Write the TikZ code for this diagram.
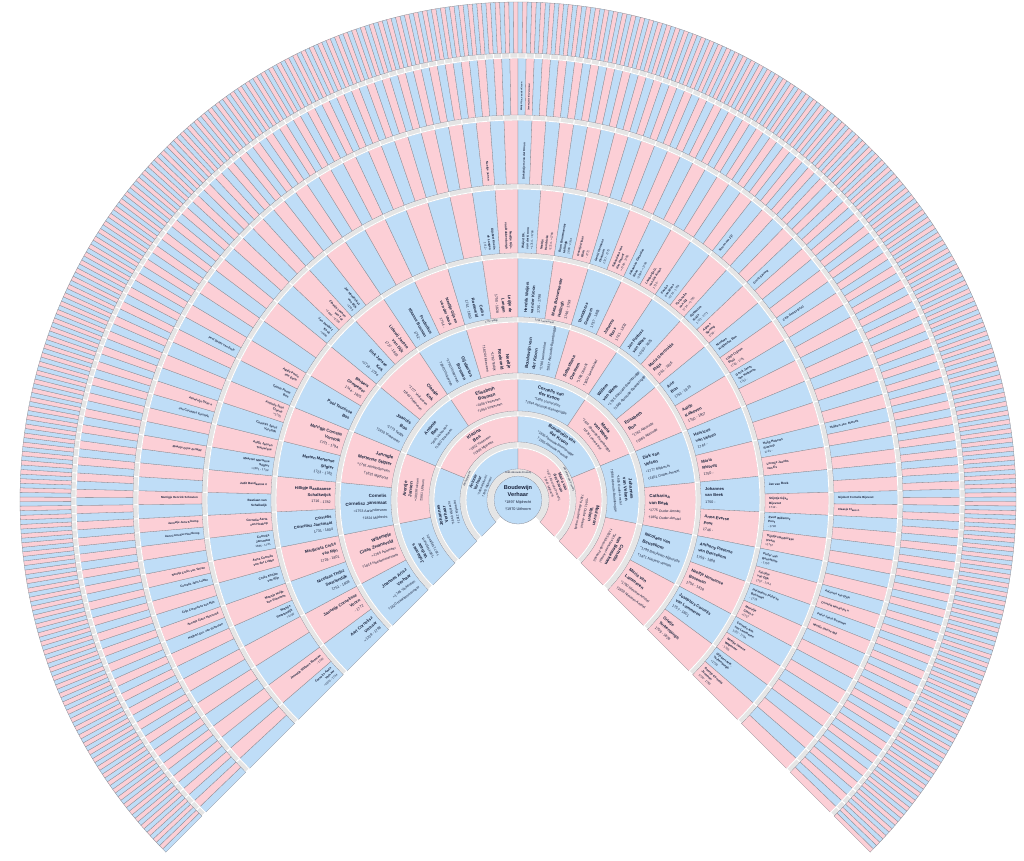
\documentclass[tikz,border=0pt]{standalone}
\usepackage{fontspec}
\setmainfont{Liberation Sans}
\definecolor{mblue}{RGB}{191,221,247}
\definecolor{fpink}{RGB}{252,207,214}
\definecolor{ringgray}{RGB}{229,229,229}
\definecolor{segline}{RGB}{140,140,148}
\definecolor{txt}{RGB}{25,35,60}
% ring of n segments, alternating father (blue) / mother (pink)
\newcommand\fanring[3]{%
  \pgfmathsetmacro\stp{270/#3}%
  \foreach \i in {1,...,#3}{%
    \pgfmathsetmacro\sa{225-(\i-1)*\stp}%
    \pgfmathsetmacro\ea{225-\i*\stp}%
    \ifodd\i\def\fc{mblue}\else\def\fc{fpink}\fi
    \filldraw[fill=\fc, draw=segline, line width=0.3pt]
      (\sa:#1pt) arc[start angle=\sa, end angle=\ea, radius=#1pt]
      -- (\ea:#2pt) arc[start angle=\ea, end angle=\sa, radius=#2pt] -- cycle;
  }}
% grey marriage ring, split in n blocks
\newcommand\grayring[3]{%
  \pgfmathsetmacro\stp{270/#3}%
  \foreach \i in {1,...,#3}{%
    \pgfmathsetmacro\sa{225-(\i-1)*\stp}%
    \pgfmathsetmacro\ea{225-\i*\stp}%
    \filldraw[fill=ringgray, draw=white, line width=0.9pt]
      (\sa:#1pt) arc[start angle=\sa, end angle=\ea, radius=#1pt]
      -- (\ea:#2pt) arc[start angle=\ea, end angle=\sa, radius=#2pt] -- cycle;
  }}
% tangential label
\newcommand\Tlab[5]{%
  \pgfmathsetmacro\rot{#2-90}%
  \node[rotate=\rot, align=center, font=#4, inner sep=0pt, text=txt] (#1) at (#2:#3pt) {#5};}
% radial label, aligned at inner edge
\newcommand\Rlab[5]{%
  \ifdim#2pt>90pt
    \pgfmathsetmacro\rot{#2-180}%
    \node[rotate=\rot, anchor=east, align=right, font=#4, inner sep=0pt, text=txt] (#1) at (#2:#3pt) {#5};%
  \else
    \node[rotate=#2, anchor=west, align=left, font=#4, inner sep=0pt, text=txt] (#1) at (#2:#3pt) {#5};%
  \fi}
\newcommand\fA{\fontsize{5.6}{6.8}\selectfont}
\newcommand\fI{\fontsize{4}{4.9}\selectfont}
\newcommand\fB{\fontsize{4.5}{5.6}\selectfont}
\newcommand\fD{\fontsize{4.4}{7.2}\selectfont}
\newcommand\fE{\fontsize{4.1}{6.4}\selectfont}
\newcommand\fF{\fontsize{3.1}{4.4}\selectfont}
\newcommand\fG{\fontsize{2.9}{3.6}\selectfont}
\newcommand\fH{\fontsize{2.3}{2.9}\selectfont}
\newcommand\dA[1]{{\fontsize{3.8}{4.8}\selectfont #1}}
\newcommand\dI[1]{{\fontsize{3}{3.9}\selectfont #1}}
\newcommand\dB[1]{{\fontsize{3.3}{4.3}\selectfont #1}}
\newcommand\dD[1]{{\fontsize{3.5}{5.4}\selectfont #1}}
\newcommand\dE[1]{{\fontsize{3.6}{5.4}\selectfont #1}}
\newcommand\dF[1]{{\fontsize{2.9}{4.2}\selectfont #1}}
\newcommand\mr{\fontsize{2.5}{3.1}\selectfont}
\newcommand\GI[3]{\pgfmathsetmacro\ang{225-(#2-0.5)*135}\Tlab{#1}{\ang}{41}{\fI}{#3}}
\newcommand\GII[3]{\pgfmathsetmacro\ang{225-(#2-0.5)*67.5}\Tlab{#1}{\ang}{71}{\fB}{#3}}
\newcommand\GIII[3]{\pgfmathsetmacro\ang{225-(#2-0.5)*33.75}\Tlab{#1}{\ang}{105}{\fB}{#3}}
\newcommand\GIV[3]{\pgfmathsetmacro\ang{225-(#2-0.5)*16.875}\Rlab{#1}{\ang}{131}{\fD}{#3}}
\newcommand\GV[3]{\pgfmathsetmacro\ang{225-(#2-0.5)*8.4375}\Rlab{#1}{\ang}{187}{\fE}{#3}}
\newcommand\GVI[3]{\pgfmathsetmacro\ang{225-(#2-0.5)*4.21875}\Rlab{#1}{\ang}{251}{\fF}{#3}}
\newcommand\GVII[3]{\pgfmathsetmacro\ang{225-(#2-0.5)*2.109375}\Rlab{#1}{\ang}{320}{\fG}{#3}}
\newcommand\GVIII[3]{\pgfmathsetmacro\ang{225-(#2-0.5)*1.0546875}\Rlab{#1}{\ang}{389}{\fH}{#3}}
% marriage label in grey ring
\newcommand\MR[5]{\pgfmathsetmacro\ang{225-(#3-0.5)*#2}\Tlab{#1}{\ang}{#4}{\mr}{#5}}
\begin{document}
\begin{tikzpicture}[x=1pt,y=1pt]
\useasboundingbox (-518,-360) rectangle (506,500);
\fill[white] (-518,-360) rectangle (506,500);
% rings
\grayring{24}{31}{1}
\fanring{31}{52}{2}
\grayring{52}{58}{2}
\fanring{58}{84}{4}
\grayring{84}{89}{4}
\fanring{89}{121}{8}
\grayring{121}{127}{8}
\fanring{127}{178}{16}
\grayring{178}{183}{16}
\fanring{183}{242}{32}
\grayring{242}{247}{32}
\fanring{247}{311}{64}
\grayring{311}{316}{64}
\fanring{316}{380}{128}
\grayring{380}{385}{128}
\fanring{385}{442}{256}
\grayring{442}{447}{256}
\fanring{447}{498}{512}
% root
\filldraw[fill=mblue, draw=segline, line width=0.3pt] (0,0) circle[radius=24pt];
\node[align=center, font=\fA, inner sep=0pt, text=txt] (root) at (0,2) {\textbf{Boudewijn}\\\textbf{Verhaar}\\[1pt]\dA{*1897 Mijdrecht}\\\dA{\textdagger1970 Uithoorn}};
\MR{m0}{270}{1}{27.5}{1896 Abcoude-Proosdij}
\MR{m1a}{135}{1}{55}{1866 Mijdrecht}
\MR{m1b}{135}{2}{55}{1862 Abcoude-Proosdij}
\MR{m4h}{16.875}{8}{180.5}{1772 Tedijk}
\MR{m4i}{16.875}{9}{180.5}{1759 Loenersloot}
% generation 1
\GI{g1a}{1}{\textbf{Antonie}\\\textbf{Verhaar}\\\dI{*1869 Mijdrecht}\\\dI{\textdagger1951 Mijdrecht}}
\GI{g1b}{2}{\textbf{Maria van}\\\textbf{der Kroon}\\\dI{*1871 Abcoude-Proosdij}\\\dI{\textdagger1941 Mijdrecht}}
% generation 2
\GII{g2a}{1}{\textbf{Johannes}\\\textbf{Verhaar}\\\dB{*1840 Mijdrecht}\\\dB{\textdagger1912 Mijdrecht}}
\GII{g2b}{2}{\textbf{Klazina}\\\textbf{Bos}\\\dB{*1832 Vinkeveen}\\\dB{\textdagger1909 Mijdrecht}}
\GII{g2c}{3}{\textbf{Boudewijn van}\\\textbf{der Kroon}\\\dB{*1836 Abcoude-Baambrugge}\\\dB{\textdagger1905 Abcoude-Proosdij}}
\GII{g2d}{4}{\textbf{Maria van}\\\textbf{Velsen}\\\dB{≈1841 Ouder-Amstel}\\\dB{\textdagger1879 Abcoude-Proosdij}}
% generation 3
\GIII{g3a}{1}{\textbf{Johannes}\\\textbf{Verhaar}\\\dB{*1804 Mijdrecht}\\\dB{\textdagger1871 Mijdrecht}}
\GIII{g3b}{2}{\textbf{Arentje}\\\textbf{Jansen}\\\dB{≈1803 Ruiveen}\\\dB{\textdagger1881 Uithoorn}}
\GIII{g3c}{3}{\textbf{Antonie}\\\textbf{Bos}\\\dB{*1801 Vinkeveen}\\\dB{\textdagger1880 Vinkeveen}}
\GIII{g3d}{4}{\textbf{Elisabeth}\\\textbf{Bosman}\\\dB{*1808 Vinkeveen}\\\dB{\textdagger1894 Vinkeveen}}
\GIII{g3e}{5}{\textbf{Cornelis van}\\\textbf{der Kroon}\\\dB{*1806 Loenersloot}\\\dB{\textdagger1844 Abcoude-Baambrugge}}
\GIII{g3f}{6}{\textbf{Maria}\\\textbf{van Wees}\\\dB{*1814 Abcoude-Baambrugge}\\\dB{\textdagger1878 Loenersloot}}
\GIII{g3g}{7}{\textbf{Johannes}\\\textbf{van Velsen}\\\dB{*1805 Ouder-Amstel}\\\dB{\textdagger1868 Abcoude-Baambrugge}}
\GIII{g3h}{8}{\textbf{Cornelia}\\\textbf{van Beusekom}\\\dB{*1814 Nieuwer-Amstel}\\\dB{\textdagger1893 Abcoude-Proosdij}}
% generation 4
\GIV{g4a}{1}{\textbf{Joannes Arisz}\\\textbf{Verhaar}\\\dD{≈1745 Vinkeveen}\\\dD{\textdagger1820 Haarlemmermeer}}
\GIV{g4b}{2}{\textbf{Willempje}\\\textbf{Claas Zwaneveld}\\\dD{≈1765 Aalsmeer}\\\dD{\textdagger1814 Haarlemmermeer}}
\GIV{g4c}{3}{\textbf{Cornelis}\\\textbf{Cornelisz Jansmaat}\\\dD{≈1753 Aarlanderveen}\\\dD{\textdagger1824 Mijdrecht}}
\GIV{g4d}{4}{\textbf{Jannigje}\\\textbf{Mertense Stigter}\\\dD{≈1761 Aarlanderveen}\\\dD{\textdagger1831 Mijdrecht}}
\GIV{g4e}{5}{\textbf{Joannis}\\\textbf{Bos}\\\dD{*1773 Tedijk}\\\dD{\textdagger1810 Vinkeveen}}
\GIV{g4f}{6}{\textbf{Claasje}\\\textbf{Kok}\\\dD{*1777 Vinkeveen}\\\dD{\textdagger1843 Vinkeveen}}
\GIV{g4g}{7}{\textbf{Gijsbertus}\\\textbf{Bosman}\\\dD{*1780 Vinkeveen}\\\dD{\textdagger1845 Vinkeveen}}
\GIV{g4h}{8}{\textbf{Neeltje}\\\textbf{Roeleveld}\\\dD{*1782 Tedijk}\\\dD{\textdagger1824 Vinkeveen}}
\GIV{g4i}{9}{\textbf{Boudewijn van}\\\textbf{der Kroon}\\\dD{*1780 Loenersloot}\\\dD{\textdagger1837 Abcoude-Baambrugge}}
\GIV{g4j}{10}{\textbf{Sebastiana}\\\textbf{Overeem}\\\dD{*1786 Utrecht}\\\dD{\textdagger1850 Loenersloot}}
\GIV{g4k}{11}{\textbf{Willem}\\\textbf{van Wees}\\\dD{*1785 Abcoude-Baambrugge}\\\dD{\textdagger1849 Abcoude-Baambrugge}}
\GIV{g4l}{12}{\textbf{Elisabeth}\\\textbf{Bon}\\\dD{*1782 Abcoude}\\\dD{\textdagger1865 Abcoude}}
\GIV{g4m}{13}{\textbf{Dirk van}\\\textbf{Velsen}\\\dD{*1777 Mijdrecht}\\\dD{\textdagger1851 Ouder-Amstel}}
\GIV{g4n}{14}{\textbf{Catharina}\\\textbf{van Beek}\\\dD{*1775 Ouder-Amstel}\\\dD{\textdagger1856 Ouder-Amstel}}
\GIV{g4o}{15}{\textbf{Nicolaas van}\\\textbf{Beusekom}\\\dD{*1790 Breukelen-Nijenrode}\\\dD{\textdagger1871 Nieuwer-Amstel}}
\GIV{g4p}{16}{\textbf{Maria van}\\\textbf{Lammeren}\\\dD{*1790 Nieuwer-Amstel}\\\dD{\textdagger1859 Nieuwer-Amstel}}
% generation 5
\GV{g5a}{1}{\textbf{Aart Cornelisz}\\\textbf{Verhaar}\\\dE{≈1709 - 1798}}
\GV{g5b}{2}{\textbf{Jannetje Cornelisse}\\\textbf{Voorn}\\\dE{- 1772}}
\GV{g5c}{3}{\textbf{Nicolaas Thijsz}\\\textbf{Swartendijk}\\\dE{1751 - 1808}}
\GV{g5d}{4}{\textbf{Margareta Crelis}\\\textbf{van Rijn}\\\dE{1729 - 1801}}
\GV{g5e}{5}{\textbf{Cornelis}\\\textbf{Cornelisz Jansmaat}\\\dE{1731 - 1804}}
\GV{g5f}{6}{\textbf{Hilligje Bastiaanse}\\\textbf{Schalkwijck}\\\dE{1716 - 1782}}
\GV{g5g}{7}{\textbf{Merten Mertense}\\\textbf{Stigter}\\\dE{1723 - 1782}}
\GV{g5h}{8}{\textbf{Marrigje Cornelis}\\\textbf{Verstolk}\\\dE{1731 - 1794}}
\GV{g5i}{9}{\textbf{Pool Teunisse}\\\textbf{Bos}}
\GV{g5j}{10}{\textbf{Barbera}\\\textbf{Compeleer}\\\dE{1744 - 1825}}
\GV{g5k}{11}{\textbf{Dirk Jansse}\\\textbf{Kok}\\\dE{≈1718 - 1794}}
\GV{g5l}{12}{\textbf{Lidewij Jansse}\\\textbf{van Dijk}\\\dE{1727 - 1803}}
\GV{g5m}{13}{\textbf{Frederikus}\\\textbf{Klaasse Bosman}\\\dE{1752 -}}
\GV{g5n}{14}{\textbf{Neeltje Gijsen}\\\textbf{van der Vaart}\\\dE{1754 -}}
\GV{g5o}{15}{\textbf{Crelis}\\\textbf{Roeleveld}\\\dE{1741 - 1802}}
\GV{g5p}{16}{\textbf{Leijtje de}\\\textbf{Langen}\\\dE{1750 - 1828}}
\GV{g5q}{17}{\textbf{Hendrik Weijers}\\\textbf{van der Kroon}\\\dE{1735 - 1798}}
\GV{g5r}{18}{\textbf{Maria Bouwmeester}\\\textbf{Hellingh}\\\dE{1746 - 1799}}
\GV{g5s}{19}{\textbf{Theodorus}\\\textbf{Overeem}\\\dE{1757 - 1805}}
\GV{g5t}{20}{\textbf{Johanna}\\\textbf{Roos}\\\dE{1761 - 1833}}
\GV{g5u}{21}{\textbf{Jan Paulusz}\\\textbf{van Wees}\\\dE{≈1760 - 1825}}
\GV{g5v}{22}{\textbf{Maria Geertruida}\\\textbf{Ruijs}\\\dE{1761 - 1816}}
\GV{g5w}{23}{\textbf{Arie}\\\textbf{Bon}\\\dE{1753 - 1819}}
\GV{g5x}{24}{\textbf{Aaltje}\\\textbf{Kalkoven}\\\dE{1750 - 1807}}
\GV{g5y}{25}{\textbf{Henricus}\\\textbf{van Velsen}\\\dE{1744 -}}
\GV{g5z}{26}{\textbf{Maria}\\\textbf{Rietvelt}\\\dE{1750 -}}
\GV{g5A}{27}{\textbf{Johannes}\\\textbf{van Beek}\\\dE{1750 -}}
\GV{g5B}{28}{\textbf{Anna Everse}\\\textbf{Post}\\\dE{1746 -}}
\GV{g5C}{29}{\textbf{Anthony Pieterse}\\\textbf{van Beusekom}\\\dE{1759 - 1808}}
\GV{g5D}{30}{\textbf{Neeltje Hermense}\\\textbf{Boseman}\\\dE{1754 - 1818}}
\GV{g5E}{31}{\textbf{Josephus Cornelis}\\\textbf{van Lammeren}\\\dE{1757 - 1801}}
\GV{g5F}{32}{\textbf{Grietje}\\\textbf{Turkenburgh}\\\dE{1759 - 1828}}
% generation 6
\GVI{g6a}{1}{\textbf{Cornelis Aarts}\\\textbf{Verhaar}\\\dF{≈1670 - 1744}}
\GVI{g6b}{2}{\textbf{Jannetje Willems Bosman}\\\dF{- 1746}}
\GVI{g6e}{5}{\textbf{Mathijs}\\\textbf{Swartendijk}\\\dF{≈1700}}
\GVI{g6f}{6}{\textbf{Maartje Huijb.}\\\textbf{van Schooten}}
\GVI{g6g}{7}{\textbf{Crelis Kreijve}\\\textbf{van Rijn}}
\GVI{g6h}{8}{\textbf{Anna Cornelis}\\\textbf{van der Lubbe}}
\GVI{g6i}{9}{\textbf{Cornelis}\\\textbf{Jansmaat}\\\dF{1685 - 1731}}
\GVI{g6j}{10}{\textbf{Cornelia Aerts}\\\textbf{van Hoekop}}
\GVI{g6k}{11}{\textbf{Bastiaan van}\\\textbf{Schalkwijk}}
\GVI{g6l}{12}{\textbf{Judit Bastiaanse n}}
\GVI{g6m}{13}{\textbf{Maarten Mertense}\\\textbf{Stigter}\\\dF{≈1681 - 1734}}
\GVI{g6n}{14}{\textbf{Aaltje Jansen}\\\textbf{Teeuwisse}}
\GVI{g6o}{15}{\textbf{Cornelis Jansz}\\\textbf{Verstolk}}
\GVI{g6p}{16}{\textbf{Antonia Jans}\\\textbf{Claens}\\\dF{≈1705}}
\GVI{g6q}{17}{\textbf{Teunis Poots}\\\textbf{Bos}}
\GVI{g6r}{18}{\textbf{Agata Poots}\\\textbf{van Esch}}
\GVI{g6u}{21}{\textbf{Jan Jacobsz}\\\textbf{Kock}\\\dF{≈1690}}
\GVI{g6v}{22}{\textbf{Claasje Loenen}\\\textbf{van Tol}\\\dF{≈1690 - ≈1730}}
\GVI{g6w}{23}{\textbf{Jan Hendricksz}\\\textbf{van Dijk}\\\dF{≈1705}}
\GVI{g6ae}{31}{\textbf{Gijsbert Koelis}\\\textbf{de Langen}\\\dF{1712 -}}
\GVI{g6af}{32}{\textbf{Neeltje Gijs.}\\\textbf{van Dobbenburgh}}
\GVI{g6ag}{33}{\textbf{Weijert Dk.}\\\textbf{van der Kroon}\\\dF{≈1714 - ≈1766}}
\GVI{g6ah}{34}{\textbf{Neeltje}\\\textbf{Hendrickx}\\\dF{≈1714 - ≈1760}}
\GVI{g6ai}{35}{\textbf{Bram Bouwmeester}\\\textbf{Hellingh}\\\dF{1680 - 1744}}
\GVI{g6aj}{36}{\textbf{Geertje Claas}\\\textbf{Blok}\\\dF{- 1771}}
\GVI{g6ak}{37}{\textbf{Gerrit Hermens}\\\textbf{Overeem}\\\dF{1727 - 1772}}
\GVI{g6al}{38}{\textbf{Sebastiana van}\\\textbf{den Heuvel}\\\dF{≈1726 - 1780}}
\GVI{g6am}{39}{\textbf{Johannes Gerardus}\\\textbf{Roos}\\\dF{≈1695 - ≈1759}}
\GVI{g6an}{40}{\textbf{Lambertje G.}\\\textbf{van der Kroon}\\\dF{1726 -}}
\GVI{g6ao}{41}{\textbf{Paulus}\\\textbf{van Wees}\\\dF{≈1715 - 1753}}
\GVI{g6ap}{42}{\textbf{Petronella}\\\textbf{van Zijl}\\\dF{1714 - ≈1795}}
\GVI{g6aq}{43}{\textbf{Gijsbertus}\\\textbf{Ruijs}\\\dF{1721 - 1771}}
\GVI{g6ar}{44}{\textbf{Agnes}\\\textbf{Sprong}\\\dF{1730 -}}
\GVI{g6as}{45}{\textbf{Nicolaas}\\\textbf{Huijbertsz Bon}}
\GVI{g6at}{46}{\textbf{Lijsje Crijnen}\\\textbf{Bruij}\\\dF{1720 - 1781}}
\GVI{g6au}{47}{\textbf{Gerrit Jansz}\\\textbf{van Kalkoven}\\\dF{1712 -}}
\GVI{g6ay}{51}{\textbf{Huijg Huberts}\\\textbf{Rietvelt}\\\dF{1721 -}}
\GVI{g6az}{52}{\textbf{Leentje Jacobs}\\\textbf{van Es}}
\GVI{g6ba}{53}{\textbf{Jan van Beek}}
\GVI{g6bb}{54}{\textbf{Stijntje Gijse}\\\textbf{Bijevoet}\\\dF{1712 -}}
\GVI{g6bc}{55}{\textbf{Evert Willemsz}\\\textbf{Post}\\\dF{- 1748}}
\GVI{g6bd}{56}{\textbf{Trijntje Hendrickse}\\\textbf{Vreem}\\\dF{≈1757}}
\GVI{g6be}{57}{\textbf{Pieter van}\\\textbf{Beusekom}\\\dF{- 1750}}
\GVI{g6bf}{58}{\textbf{Jacobje}\\\textbf{van Dijk}\\\dF{1707 - 1744}}
\GVI{g6bg}{59}{\textbf{Hermanus Pieterse}\\\textbf{Boseman}\\\dF{- 1779}}
\GVI{g6bh}{60}{\textbf{Marretje}\\\textbf{Claas n}\\\dF{≈1757}}
\GVI{g6bi}{61}{\textbf{Cornelis Ant.}\\\textbf{van Lammeren}\\\dF{1722 - 1794}}
\GVI{g6bj}{62}{\textbf{Neeltje Jansse}\\\textbf{Wagenaar}\\\dF{- 1765}}
\GVI{g6bk}{63}{\textbf{Gijsbert Arie.}\\\textbf{Turkenburgh}\\\dF{≈1730}}
\GVI{g6bl}{64}{\textbf{Geertje Cornelis}\\\textbf{Jansman}\\\dF{1720 - 1780}}
% generation 7
\GVII{g7k}{11}{\textbf{Huijbert Ger. van Schooten}}
\GVII{g7l}{12}{\textbf{Annetje Claes Harteveld}}
\GVII{g7m}{13}{\textbf{Crijn Cornelisse van Rijn}}
\GVII{g7o}{15}{\textbf{Cornelis Jans Lubbe}}
\GVII{g7p}{16}{\textbf{Neeltje Crelis van Velzen}}
\GVII{g7s}{19}{\textbf{Aart Cornelisz Hoenkoop}}
\GVII{g7t}{20}{\textbf{Jannetje Jans Kloemp}}
\GVII{g7v}{22}{\textbf{Marrigje Henrick Schouten}}
\GVII{g7z}{26}{\textbf{Maartje Gijse de Wild}}
\GVII{g7ac}{29}{\textbf{Jan Cornelisz Verstolk}}
\GVII{g7ad}{30}{\textbf{Aliswintje Dirks n}}
\GVII{g7ai}{35}{\textbf{Pool Dirksz van Esch}}
\GVII{g7bj}{62}{\textbf{Neeltje Jans n}}
\GVII{g7bm}{65}{\textbf{Dirk Weijers van der Kroon}}
\GVII{g7ce}{83}{\textbf{Steven van Zijl}}
\GVII{g7ci}{87}{\textbf{Gerrit Sprong}}
\GVII{g7cm}{91}{\textbf{Crijn Gerrits Bruij}}
\GVII{g7cw}{101}{\textbf{Huijbert Jan. Rietvelt}}
\GVII{g7dc}{107}{\textbf{Gijsbert Cornelis Bijevoet}}
\GVII{g7dd}{108}{\textbf{Claasje Claes n}}
\GVII{g7dk}{115}{\textbf{Antonius van Dijck}}
\GVII{g7dl}{116}{\textbf{Cornelia Hendricks n}}
\GVII{g7dm}{117}{\textbf{Pieter Jansz Boseman}}
\GVII{g7dn}{118}{\textbf{Neeltje Jansse Mol}}
% generation 8
\GVIII{g8a}{129}{\textbf{Weijert Aa. van der Kroon}}
\GVIII{g8b}{130}{\textbf{Jannetje Gerrit Verwoerd}}
\end{tikzpicture}
\end{document}
